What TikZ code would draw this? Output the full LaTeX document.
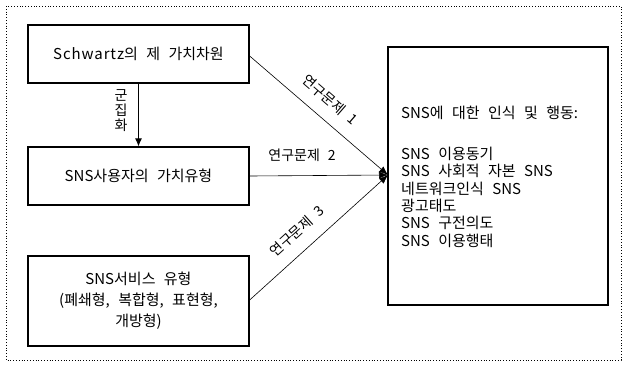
\documentclass[tikz,border=0pt]{standalone}
\usepackage{fontspec}
\setmainfont{Noto Sans CJK KR}[WordSpace=2.5]
\usetikzlibrary{arrows.meta}
\tikzset{
  box/.style={draw, line width=1.3pt, minimum width=221pt, align=center, font=\fontsize{15}{21}\selectfont, inner sep=0pt},
  conn/.style={draw, line width=0.6pt, -{Latex[length=9pt,width=7pt]}},
  lbl/.style={font=\fontsize{14}{15}\selectfont, inner sep=1pt},
}
\begin{document}
\begin{tikzpicture}[x=1pt,y=-1pt]
\useasboundingbox (0,0) rectangle (626,365);
\draw[dotted, line width=0.8pt] (6,6) rectangle (621,360);
\node[box, minimum height=58pt] (b1) at (138.5,54) {{\addfontfeature{LetterSpace=6}Schwartz}의 제 가치차원};
\node[box, minimum height=58pt] (b2) at (138.5,176) {SNS사용자의 가치유형};
\node[box, minimum height=90pt] (b3) at (138.5,301) {SNS서비스 유형\\(폐쇄형, 복합형, 표현형,\\개방형)};
\node[draw, line width=1.3pt, minimum width=220pt, minimum height=258pt, inner sep=0pt] (r) at (498,176) {};
\node[anchor=north west, align=left, font=\fontsize{15}{17.3}\selectfont, inner sep=0pt] (rt) at (401,106)
  {SNS에 대한 인식 및 행동:\\[23.7pt]SNS 이용동기\\SNS 사회적 자본 SNS\\네트워크인식 SNS\\광고태도\\SNS 구전의도\\SNS 이용행태};
\coordinate (tip) at (388,175);
\draw[conn] (b1.east |- 0,56) -- (tip);
\draw[conn] (b2.east) -- (tip);
\draw[conn] (b3.east |- 0,300) -- (tip);
\draw[line width=0.8pt, -{Latex[length=8pt,width=7pt]}] (b1.south) -- (b2.north);
\node[lbl, align=center] (g) at (121,111) {군\\집\\화};
\node[lbl, rotate=-41] (l1) at (330,100) {연구문제 1};
\node[lbl] (l2) at (302,155) {연구문제 2};
\node[lbl, rotate=42] (l3) at (297,231) {연구문제 3};
\end{tikzpicture}
\end{document}
